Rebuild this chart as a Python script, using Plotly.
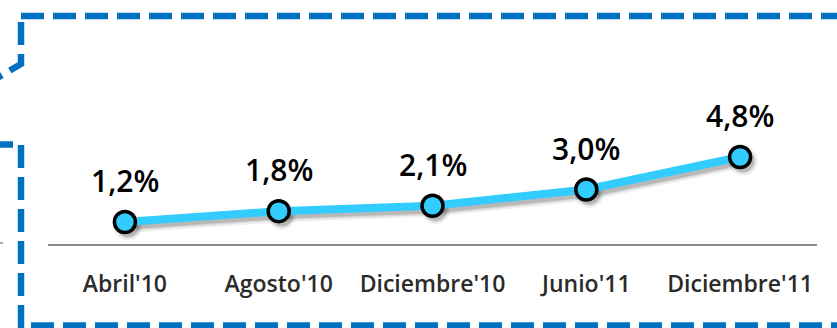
import plotly.graph_objects as go

# Evolución del indicador por periodo
periodos = ["Abril'10", "Agosto'10", "Diciembre'10", "Junio'11", "Diciembre'11"]
valores = [1.2, 1.8, 2.1, 3.0, 4.8]
etiquetas = [f"{v:.1f}%".replace(".", ",") for v in valores]

W, H = 837, 328
AZUL_BORDE = "#0070C0"
CELESTE = "#33CCFF"


def fx(p):
    return p / W


def fy(p):
    return 1 - p / H


# plot area in pixels
X0, X1 = 48, 817
Y_BASE, Y_TOP = 243.7, 40
Y_MAX = (Y_BASE - Y_TOP) / 18.06
SDX, SDY = 3, 4  # drop-shadow offset

fig = go.Figure()

# soft shadow under the line (drawn on an offset copy of the axes)
for w, a in [(14, 0.06), (10, 0.10), (7, 0.14)]:
    fig.add_trace(go.Scatter(
        x=periodos, y=valores, mode="lines+markers",
        line=dict(color=f"rgba(0,0,0,{a})", width=w),
        marker=dict(size=22 + w - 7, color=f"rgba(0,0,0,{a})", line=dict(width=0)),
        xaxis="x", yaxis="y", hoverinfo="skip", showlegend=False,
        cliponaxis=False,
    ))

# main series
fig.add_trace(go.Scatter(
    x=periodos, y=valores, mode="lines+markers",
    line=dict(color=CELESTE, width=8),
    marker=dict(size=21, color=CELESTE, line=dict(color="#000000", width=3.5)),
    xaxis="x2", yaxis="y2", showlegend=False, cliponaxis=False,
))

for p, v, t in zip(periodos, valores, etiquetas):
    fig.add_annotation(
        x=p, y=v, xref="x2", yref="y2", text=t, showarrow=False,
        yanchor="bottom", yshift=19,
        font=dict(family="Open Sans", size=30, color="#000000", weight=600),
    )

# dashed callout frame
dash = "23px,9px"
frame = dict(color=AZUL_BORDE, width=6.5, dash=dash)
shapes = [
    dict(type="line", xref="paper", yref="paper",
         x0=fx(21), y0=fy(16), x1=fx(860), y1=fy(16), line=frame),
    dict(type="path", xref="paper", yref="paper",
         path=f"M {fx(21)},{fy(22)} L {fx(21)},{fy(64)} L {fx(-20)},{fy(88)}",
         line=frame),
    dict(type="line", xref="paper", yref="paper",
         x0=fx(-5), y0=fy(144.5), x1=fx(13), y1=fy(144.5),
         line=dict(color=AZUL_BORDE, width=6.5)),
    dict(type="line", xref="paper", yref="paper",
         x0=fx(21), y0=fy(145), x1=fx(21), y1=fy(340), line=frame),
    dict(type="line", xref="paper", yref="paper",
         x0=fx(31), y0=fy(325.5), x1=fx(860), y1=fy(325.5), line=frame),
    dict(type="line", xref="paper", yref="paper",
         x0=fx(0), y0=fy(243), x1=fx(3), y1=fy(243),
         line=dict(color="#8c8c8c", width=1.5)),
]

fig.update_layout(
    width=W, height=H,
    margin=dict(l=0, r=0, t=0, b=0),
    paper_bgcolor="#ffffff",
    plot_bgcolor="rgba(0,0,0,0)",
    shapes=shapes,
    xaxis=dict(domain=[fx(X0 + SDX), fx(X1 + SDX)], range=[-0.5, 4.5],
               anchor="y", visible=False, fixedrange=True),
    yaxis=dict(domain=[fy(Y_BASE + SDY), fy(Y_TOP + SDY)], range=[0, Y_MAX],
               anchor="x", visible=False, fixedrange=True),
    xaxis2=dict(domain=[fx(X0), fx(X1)], range=[-0.5, 4.5], anchor="y2",
                showline=True, linecolor="#8c8c8c", linewidth=1.5,
                showgrid=False, zeroline=False, ticks="",
                ticklabelstandoff=19,
                tickfont=dict(family="Open Sans", size=23, color="#2b2b2b",
                              weight=600)),
    yaxis2=dict(domain=[fy(Y_BASE), fy(Y_TOP)], range=[0, Y_MAX], anchor="x2",
                visible=False, fixedrange=True),
)

fig.write_html("out.html")
